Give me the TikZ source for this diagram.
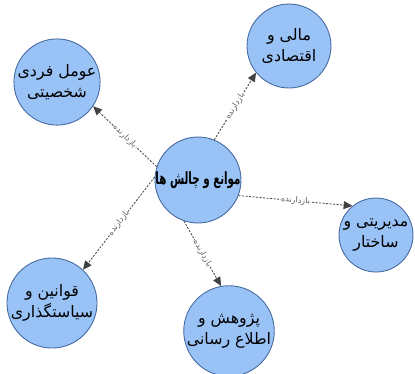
\documentclass[tikz,border=0pt]{standalone}
\usepackage{fontspec}
\TeXXeTstate=1
\newfontfamily\arabicfont[Script=Arabic]{DejaVu Sans}
\usetikzlibrary{arrows.meta}
\definecolor{cfill}{RGB}{153,195,246}
\definecolor{cline}{RGB}{70,105,160}
\begin{document}
\begin{tikzpicture}[x=0.02cm,y=-0.02cm,
  topic/.style={circle,draw=cline,fill=cfill,line width=0.5pt,inner sep=0pt,align=center,font=\arabicfont\fontsize{9}{12}\selectfont},
  title/.style={inner sep=0pt,font=\arabicfont\bfseries\fontsize{9.6}{11}\selectfont},
  link/.style={draw=black!75,line width=0.45pt,dash pattern=on 1.2pt off 0.8pt,-{Triangle[length=5pt,width=4.5pt]}},
  lbl/.style={sloped,midway,fill=white,inner sep=0.3pt,text=black!65,font=\arabicfont\fontsize{4.6}{5}\selectfont}]
\useasboundingbox (0,0) rectangle (415,373);
\node[topic,minimum size=1.72cm] (c) at (198,180) {};
\node[title] (ct) at (c.center) {\scalebox{0.61}[1]{\beginR موانع و چالش ها\endR}};
\node[topic,minimum size=1.68cm] (tl) at (57,82) {\beginR عومل فردی\endR\\\beginR شخصیتی\endR};
\node[topic,minimum size=1.68cm] (tr) at (289,46) {\beginR مالی و\endR\\\beginR اقتصادی\endR};
\node[topic,minimum size=1.48cm] (r) at (376,235) {\beginR مدیریتی و\endR\\\beginR ساختار\endR};
\node[topic,minimum size=1.72cm] (bl) at (52,303) {\beginR قوانین و\endR\\\beginR سیاستگذاری\endR};
\node[topic,minimum size=1.6cm] (b) at (229,331) {\beginR پژوهش و\endR\\\beginR اطلاع رسانی\endR};
\draw[link] (c.162) -- node[lbl]{\beginR بازدارنده\endR} (tl.-34);
\draw[link] (c.68) -- node[lbl]{\beginR بازدارنده\endR} (tr.-141);
\draw[link] (c.-21) -- node[lbl]{\beginR بازدارنده\endR} (r.129);
\draw[link] (c.176) -- node[lbl]{\beginR بازدارنده\endR} (bl.47);
\draw[link] (c.-109) -- node[lbl]{\beginR بازدارنده\endR} (b.100);
\end{tikzpicture}
\end{document}
